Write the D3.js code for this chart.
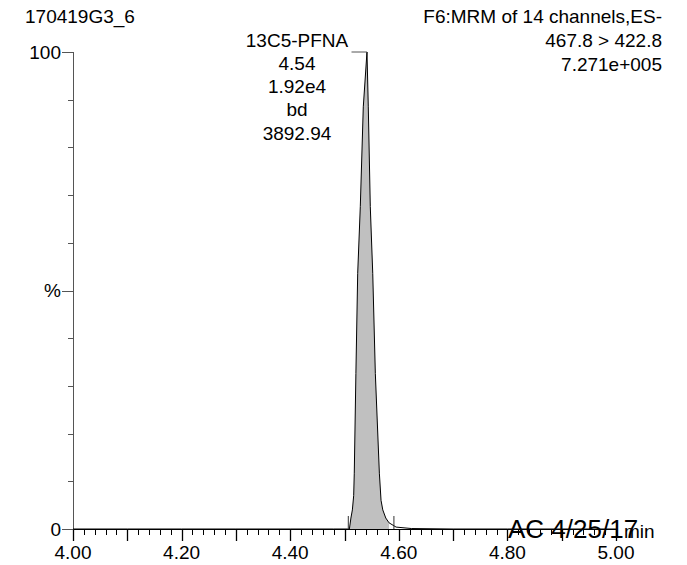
<!DOCTYPE html>
<html>
<head>
<meta charset="utf-8">
<script src="https://cdn.jsdelivr.net/npm/d3@7"></script>
<style>
  html, body { margin: 0; padding: 0; background: #fff; }
  svg text { font-family: "Liberation Sans", Arial, Helvetica, sans-serif; fill: #000; }
</style>
</head>
<body>
<svg id="chart" width="687" height="565"></svg>
<script>
// ---- data ----
const times = [4.000, 4.100, 4.200, 4.300, 4.400, 4.480, 4.505, 4.509, 4.5118, 4.5145, 4.5169, 4.518, 4.521, 4.5243, 4.5291, 4.5346, 4.5414, 4.5438, 4.5475, 4.552, 4.5568, 4.5642, 4.5673, 4.5705, 4.576, 4.582, 4.595, 4.623, 4.700, 4.800, 4.900, 5.000];
const intensity = [0, 0, 0, 0, 0, 0, 0, 0, 2.3, 4, 7, 11.7, 32.6, 53.6, 67.6, 88.5, 100, 88.5, 67.6, 53.6, 32.6, 11.7, 6, 4, 2.3, 1.3, 0.4, 0.1, 0, 0, 0, 0];
const integrationStart = 4.507;
const integrationEnd = 4.591;
const apexTime = 4.5414;
const peakLabels = ["13C5-PFNA", "4.54", "1.92e4", "bd", "3892.94"];
const headerLeft = "170419G3_6";
const headerRight = ["F6:MRM of 14 channels,ES-", "467.8 > 422.8", "7.271e+005"];
const xTickLabels = [4.00, 4.20, 4.40, 4.60, 4.80, 5.00];
const xMinorTicks = d3.range(0, 51).map(i => 4 + i * 0.02);
const xMajorTicks = d3.range(0, 11).map(i => 4 + i * 0.1);
const yTicks = d3.range(0, 11).map(i => i * 10);
const yLabels = [{v: 0, t: "0"}, {v: 50, t: "%"}, {v: 100, t: "100"}];
const stamp = "AC 4/25/17";
const xUnit = "min";

// ---- layout ----
const svg = d3.select("#chart");
const x = d3.scaleLinear().domain([4.0, 5.0]).range([73, 616]);
const y = d3.scaleLinear().domain([0, 100]).range([529, 52]);
const FS = 19;

// filled peak area
const peakData = times.map((t, i) => ({t, v: intensity[i]}))
  .filter(d => d.t >= integrationStart - 0.001 && d.t <= integrationEnd + 0.001);
const area = d3.area().x(d => x(d.t)).y0(y(0)).y1(d => y(d.v));
svg.append("path").datum(peakData).attr("d", area).attr("fill", "#c0c0c0").attr("stroke", "none");

// x axis line
svg.append("line").attr("x1", x(4)).attr("x2", x(5)).attr("y1", y(0) + 0.5).attr("y2", y(0) + 0.5)
  .attr("stroke", "#000").attr("stroke-width", 1);

// x ticks
svg.selectAll(".xminor").data(xMinorTicks).enter().append("line")
  .attr("x1", d => Math.round(x(d)) + 0.5).attr("x2", d => Math.round(x(d)) + 0.5)
  .attr("y1", y(0)).attr("y2", y(0) + 6).attr("stroke", "#000").attr("stroke-width", 1);
svg.selectAll(".xmajor").data(xMajorTicks).enter().append("line")
  .attr("x1", d => Math.round(x(d)) + 0.5).attr("x2", d => Math.round(x(d)) + 0.5)
  .attr("y1", y(0)).attr("y2", y(0) + 12).attr("stroke", "#000").attr("stroke-width", 1.3);
svg.selectAll(".xlab").data(xTickLabels).enter().append("text")
  .attr("x", d => x(d)).attr("y", 559).attr("text-anchor", "middle")
  .attr("font-size", FS).text(d => d.toFixed(2));

// y axis
svg.append("line").attr("x1", x(4) + 0.5).attr("x2", x(4) + 0.5).attr("y1", y(100)).attr("y2", y(0))
  .attr("stroke", "#555").attr("stroke-width", 1);
svg.selectAll(".ytick").data(yTicks).enter().append("line")
  .attr("x1", d => (d % 50 === 0) ? x(4) - 11 : x(4) - 5).attr("x2", x(4) + 0.5)
  .attr("y1", d => Math.round(y(d)) + 0.5).attr("y2", d => Math.round(y(d)) + 0.5)
  .attr("stroke", "#555").attr("stroke-width", 1);
svg.selectAll(".ylab").data(yLabels).enter().append("text")
  .attr("x", x(4) - 12).attr("y", d => y(d.v) + 6.5).attr("text-anchor", "end")
  .attr("font-size", FS).text(d => d.t);

// trace line
const line = d3.line().x(d => x(d.t)).y(d => y(d.v));
const traceData = times.map((t, i) => ({t, v: intensity[i]}));
svg.append("path").datum(traceData).attr("d", line).attr("fill", "none")
  .attr("stroke", "#000").attr("stroke-width", 1);

// integration markers
[integrationStart, integrationEnd].forEach(t => {
  svg.append("line").attr("x1", x(t)).attr("x2", x(t)).attr("y1", y(0)).attr("y2", y(0) - 13)
    .attr("stroke", "#333").attr("stroke-width", 1);
});

// peak label
svg.append("line").attr("x1", 351.5).attr("x2", x(apexTime)).attr("y1", y(100)).attr("y2", y(100))
  .attr("stroke", "#555").attr("stroke-width", 1);
svg.selectAll(".plab").data(peakLabels).enter().append("text")
  .attr("x", 297).attr("y", (d, i) => 46.5 + i * 23.3).attr("text-anchor", "middle")
  .attr("font-size", FS).text(d => d);

// headers
svg.append("text").attr("x", 25).attr("y", 23).attr("font-size", FS).text(headerLeft);
svg.selectAll(".hr").data(headerRight).enter().append("text")
  .attr("x", 662).attr("y", (d, i) => 23 + i * 24).attr("text-anchor", "end")
  .attr("font-size", FS).text(d => d);

// stamp and unit
svg.append("text").attr("x", 624).attr("y", 538).attr("font-size", FS).text(xUnit);
svg.append("text").attr("x", 508).attr("y", 538).attr("font-size", 26).text(stamp);
</script>
</body>
</html>
